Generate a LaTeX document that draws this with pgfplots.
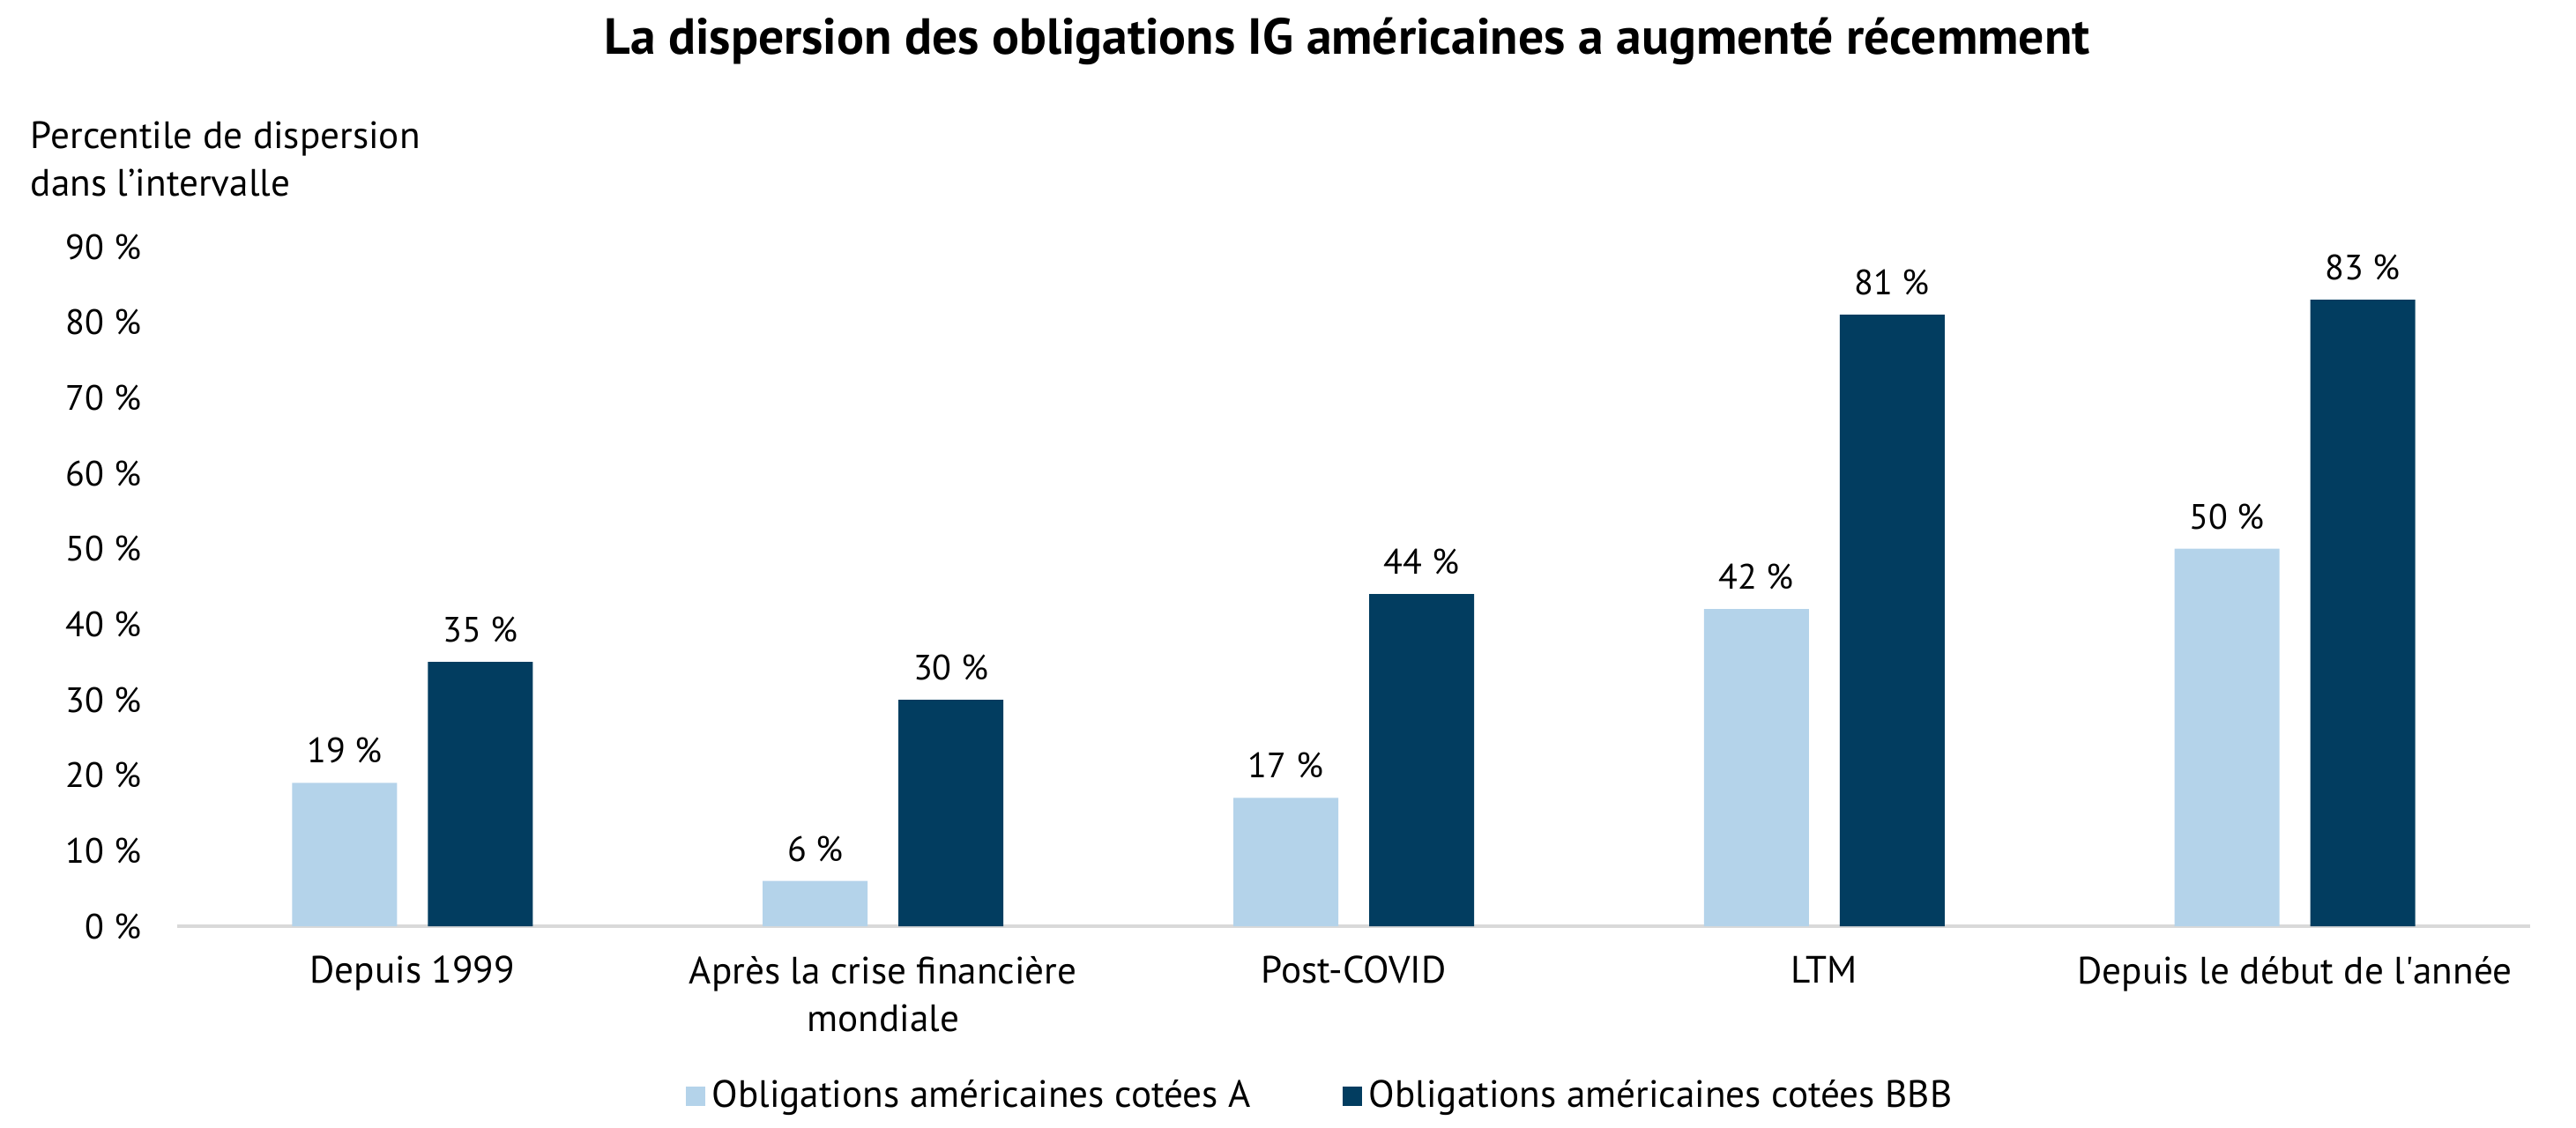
\documentclass[border=0pt]{standalone}
\usepackage{fontspec}
\setmainfont{PT Sans}
\usepackage{pgfplots}
\pgfplotsset{compat=1.18}
\definecolor{lightb}{RGB}{180,211,234}
\definecolor{darkb}{RGB}{2,61,96}
\definecolor{axgray}{RGB}{217,217,217}
\begin{document}
\begin{tikzpicture}
\path[use as bounding box] (0,0) rectangle (730.5pt,319.75pt);
\node[font=\bfseries\fontsize{14.4}{17}\selectfont] at (382pt,308pt) {La dispersion des obligations IG américaines a augmenté récemment};
\node[font=\fontsize{10.8}{13.5}\selectfont, align=left, anchor=north west, inner sep=0pt] at (8.5pt,285.5pt) {Percentile de dispersion\\dans l’intervalle};
\begin{axis}[
  at={(50.25pt,57pt)}, anchor=south west,
  scale only axis, width=667.25pt, height=192.75pt,
  xmin=-0.5, xmax=4.5, ymin=0, ymax=90,
  axis y line=none,
  axis x line*=bottom,
  axis line style={axgray, line width=1.2pt},
  x axis line style={-},
  xtick={0,1,2,3,4},
  xticklabels={Depuis 1999, {Après la crise financière\\mondiale}, Post-COVID, LTM, Depuis le début de l\textquotesingle année},
  xticklabel style={align=center, font=\fontsize{10.8}{13.5}\selectfont, yshift=-5pt},
  major tick length=0pt,
  ytick={0,10,...,90},
  /pgf/number format/assume math mode=true,
  clip=false,
  ybar, bar width=29.75pt,
  nodes near coords={\pgfmathprintnumber{\pgfplotspointmeta}~\%},
  nodes near coords style={font=\fontsize{10}{12}\selectfont, anchor=south, yshift=2pt},
  legend style={at={(0.4867,-0.25)}, anchor=center, draw=none, legend columns=2,
    font=\fontsize{10.8}{13}\selectfont, /tikz/every even column/.append style={column sep=24pt}},
  legend image code/.code={\fill[#1] (0pt,-2.75pt) rectangle (5.5pt,2.75pt);},
]
\pgfplotsinvokeforeach{0,10,...,90}{
  \node[anchor=east, font=\fontsize{10}{12}\selectfont, inner sep=0pt] at (axis cs:-0.5,#1) [xshift=-10pt] {#1~\%};
}
\addplot[fill=lightb, draw=none, bar shift=-19.25pt] coordinates {(0,19) (1,6) (2,17) (3,42) (4,50)};
\addplot[fill=darkb, draw=none, bar shift=19.25pt] coordinates {(0,35) (1,30) (2,44) (3,81) (4,83)};
\legend{Obligations américaines cotées A, Obligations américaines cotées BBB}
\end{axis}
\end{tikzpicture}
\end{document}
